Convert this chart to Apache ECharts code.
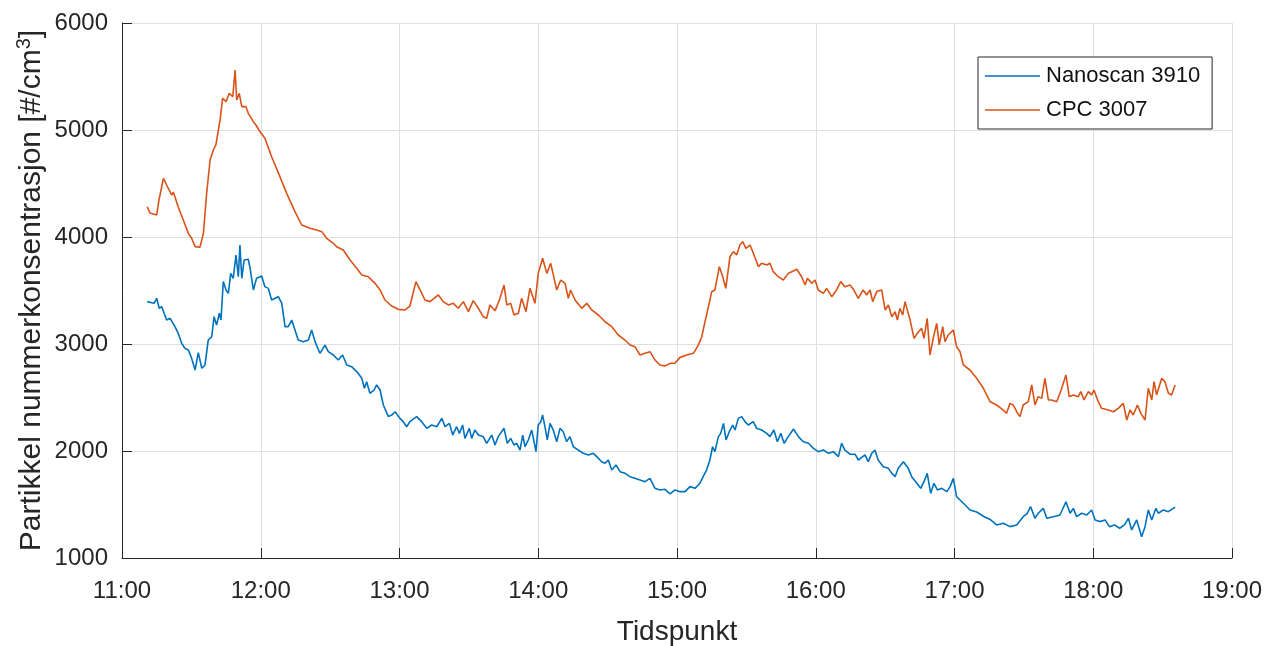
<!DOCTYPE html>
<html>
<head>
<meta charset="utf-8">
<script src="https://cdn.jsdelivr.net/npm/echarts@6/dist/echarts.min.js"></script>
<style>
  html, body { margin: 0; padding: 0; background: #ffffff; }
  #chart { width: 1268px; height: 646px; }
</style>
</head>
<body>
<div id="chart"></div>
<script>
// Time axis in minutes after midnight; samples are stored as minutes after 11:00.
const START_MIN = 660;
const xTickMin = 660;   // 11:00
const xTickMax = 1140;  // 19:00
const yTickMin = 1000;
const yTickMax = 6000;

const seriesNames = ['Nanoscan 3910', 'CPC 3007'];
const seriesColors = ['#0072BD', '#D95319'];

// [minutes after 11:00, particles per cm3]
const nanoscan3910 = [
  [10.9,3396],[12.8,3385],[13.8,3380],[15.0,3427],[16.1,3334],[17.2,3349],[18.2,3287],[19.3,3224],[20.8,3240],[22.9,3162],
  [24.3,3100],[25.8,3006],[27.2,2960],[28.7,2944],[30.1,2866],[31.6,2757],[33.0,2919],[34.5,2773],[35.9,2804],[37.3,3037],
  [38.8,3068],[39.8,3255],[40.9,3177],[42.1,3287],[42.8,3224],[43.8,3583],[45.0,3505],[46.0,3473],[47.0,3660],[48.1,3614],
  [49.3,3832],[50.3,3629],[51.0,3925],[51.8,3614],[52.8,3785],[53.6,3801],[54.6,3792],[55.4,3707],[56.8,3505],[58.2,3614],
  [60.4,3635],[61.8,3536],[63.3,3520],[64.7,3411],[66.2,3427],[67.6,3442],[69.1,3380],[70.5,3162],[71.9,3162],[73.4,3224],
  [74.8,3131],[76.2,3037],[78.4,3022],[80.6,3037],[82.0,3131],[83.5,3020],[85.6,2913],[87.8,2990],[89.2,2928],[91.4,2897],
  [93.5,2850],[95.4,2897],[97.2,2804],[99.3,2788],[101.5,2742],[103.7,2679],[104.8,2586],[105.8,2648],[107.2,2539],[109.0,2570],
  [110.1,2617],[111.6,2570],[113.0,2430],[115.2,2321],[116.6,2336],[118.1,2367],[120.2,2305],[121.6,2274],[123.1,2227],[124.5,2274],
  [127.4,2321],[129.6,2274],[131.8,2212],[133.9,2243],[136.1,2227],[138.3,2305],[139.7,2227],[141.6,2258],[143.0,2149],[144.7,2227],
  [145.9,2165],[147.3,2243],[148.3,2118],[150.2,2212],[151.2,2118],[152.6,2196],[154.1,2149],[156.2,2134],[157.7,2072],[159.9,2149],
  [161.3,2056],[162.7,2134],[165.2,2212],[166.6,2072],[168.1,2118],[169.5,2056],[170.7,2072],[172.1,2009],[173.3,2149],[174.3,2040],
  [175.7,2103],[177.2,2196],[177.9,2118],[179.0,1994],[180.0,2243],[181.1,2274],[181.9,2336],[182.9,2227],[183.9,2103],[185.1,2258],
  [186.5,2196],[188.0,2087],[189.4,2212],[190.8,2180],[192.3,2087],[193.7,2134],[195.2,2040],[197.3,2009],[199.5,1978],[201.7,1963],
  [203.8,1978],[205.3,1947],[207.4,1900],[208.9,1885],[210.3,1916],[211.8,1822],[213.6,1869],[215.4,1807],[217.5,1791],[219.7,1760],
  [221.8,1745],[224.0,1729],[226.2,1713],[228.3,1745],[230.5,1651],[232.6,1636],[234.8,1642],[237.0,1600],[239.1,1636],[241.3,1620],
  [243.5,1620],[245.6,1667],[247.8,1651],[249.9,1698],[251.3,1760],[252.8,1822],[254.2,1916],[255.4,2040],[256.4,1994],[257.9,2134],
  [258.9,2165],[260.1,2258],[261.2,2103],[262.6,2180],[264.1,2243],[265.1,2196],[266.5,2305],[268.0,2321],[269.4,2274],[270.8,2243],
  [273.0,2274],[274.4,2212],[276.6,2196],[278.8,2165],[280.2,2134],[281.9,2196],[283.4,2087],[284.9,2165],[286.3,2072],[288.1,2134],
  [290.4,2205],[292.5,2134],[294.6,2087],[296.9,2072],[299.0,2025],[301.1,1994],[303.3,2009],[305.5,1978],[307.6,1994],[309.8,1947],
  [311.2,2072],[312.6,2009],[314.8,1970],[317.0,1970],[318.4,1916],[319.1,1916],[321.3,1963],[322.7,1900],[324.2,1978],[325.6,2009],
  [327.0,1916],[329.2,1853],[331.4,1838],[332.9,1791],[334.3,1760],[335.7,1838],[337.9,1900],[340.0,1838],[341.5,1760],[343.7,1698],
  [345.4,1651],[346.8,1713],[348.2,1791],[349.7,1604],[351.1,1698],[352.6,1636],[354.5,1651],[356.7,1620],[358.1,1667],[359.5,1744],
  [360.9,1573],[362.4,1542],[364.6,1495],[366.7,1449],[369.6,1430],[372.5,1390],[375.4,1360],[378.2,1309],[381.1,1324],[384.0,1293],
  [386.9,1309],[389.7,1386],[391.5,1418],[392.9,1480],[394.8,1371],[396.2,1418],[398.4,1464],[399.9,1371],[402.8,1386],[405.6,1402],
  [408.2,1526],[410.0,1418],[411.4,1464],[412.8,1386],[415.0,1418],[417.2,1402],[419.3,1449],[420.8,1356],[422.9,1340],[425.1,1356],
  [427.0,1293],[429.2,1309],[431.4,1278],[433.5,1309],[435.2,1371],[436.6,1262],[438.8,1356],[440.9,1199],[442.4,1293],[443.8,1449],
  [445.3,1356],[447.1,1464],[448.2,1418],[450.3,1449],[452.5,1433],[454.6,1464],[455.4,1474]
];

const cpc3007 = [
  [10.9,4283],[12.1,4224],[15.0,4206],[16.0,4346],[17.9,4548],[19.3,4486],[21.5,4392],[22.2,4420],[24.3,4283],[26.5,4159],
  [28.7,4034],[30.1,3988],[31.6,3910],[33.7,3904],[35.2,4034],[36.6,4408],[38.1,4720],[39.5,4813],[40.6,4860],[42.4,5093],
  [43.5,5296],[45.0,5265],[46.4,5343],[47.9,5311],[48.9,5561],[49.6,5280],[50.7,5343],[51.8,5218],[53.6,5218],[54.6,5156],
  [56.8,5078],[57.9,5047],[59.7,4984],[61.8,4922],[64.7,4750],[68.3,4564],[71.2,4408],[74.8,4237],[77.7,4112],[81.3,4081],
  [84.2,4065],[86.4,4050],[88.5,3988],[91.4,3941],[92.8,3909],[95.7,3878],[98.6,3785],[101.5,3707],[103.7,3645],[106.5,3629],
  [109.4,3567],[111.6,3505],[113.7,3411],[116.6,3355],[119.5,3324],[122.4,3318],[124.5,3355],[127.1,3583],[128.9,3505],[131.0,3411],
  [133.2,3396],[136.8,3458],[138.9,3396],[141.1,3365],[143.3,3380],[145.4,3334],[147.6,3396],[149.8,3302],[151.9,3405],[154.1,3334],
  [156.2,3255],[157.7,3240],[159.1,3365],[161.3,3310],[163.2,3411],[165.2,3551],[166.4,3365],[168.1,3380],[169.5,3271],[171.4,3287],
  [172.8,3427],[174.7,3302],[176.4,3520],[178.6,3380],[180.0,3660],[180.8,3675],[181.9,3801],[183.7,3660],[185.4,3754],[188.0,3505],
  [189.7,3598],[191.6,3567],[193.0,3427],[194.0,3505],[195.9,3411],[198.8,3333],[201.0,3380],[203.1,3318],[206.0,3271],[208.9,3208],
  [211.8,3162],[214.6,3084],[217.5,3037],[219.7,2991],[221.8,2975],[224.0,2897],[226.2,2913],[228.3,2928],[230.5,2850],[232.6,2804],
  [234.8,2794],[237.0,2819],[239.1,2820],[241.3,2875],[244.2,2897],[247.1,2913],[249.2,2990],[250.7,3068],[252.1,3208],[253.6,3349],
  [255.0,3489],[256.4,3505],[258.3,3723],[259.8,3629],[261.1,3520],[262.9,3816],[264.4,3863],[265.8,3832],[267.2,3925],[268.4,3956],
  [269.8,3894],[271.6,3925],[273.3,3832],[275.2,3723],[276.6,3754],[278.8,3738],[280.2,3754],[281.6,3676],[283.8,3629],[286.0,3598],
  [288.1,3660],[289.6,3676],[291.8,3698],[293.9,3629],[295.4,3551],[296.4,3614],[298.2,3567],[299.7,3598],[301.1,3505],[303.3,3473],
  [304.7,3520],[306.9,3442],[309.0,3505],[310.8,3583],[312.6,3536],[314.8,3551],[316.2,3515],[318.4,3427],[320.5,3505],[322.0,3458],
  [323.5,3505],[324.6,3396],[326.4,3490],[328.5,3505],[330.0,3318],[331.4,3365],[332.9,3255],[334.3,3302],[335.3,3224],[336.4,3333],
  [337.6,3271],[338.6,3396],[340.8,3224],[342.5,3053],[344.4,3115],[345.8,3146],[346.8,3053],[348.2,3240],[349.4,2897],[350.8,3053],
  [352.3,3193],[353.4,2991],[354.9,3162],[355.9,3022],[357.3,3084],[359.5,3131],[360.9,2975],[362.4,2928],[363.8,2804],[366.7,2757],
  [369.6,2679],[372.5,2586],[373.9,2524],[375.4,2461],[378.2,2430],[381.1,2383],[382.5,2352],[384.0,2445],[385.4,2430],[386.9,2367],
  [388.3,2321],[389.7,2430],[391.9,2461],[393.4,2617],[394.8,2430],[396.2,2508],[397.7,2492],[399.1,2679],[400.6,2477],[402.0,2477],
  [404.2,2461],[406.1,2570],[408.2,2710],[409.6,2508],[411.4,2524],[413.5,2508],[414.6,2555],[416.0,2477],[417.9,2555],[419.3,2524],
  [420.3,2570],[422.2,2461],[423.6,2399],[426.5,2383],[428.7,2367],[430.8,2399],[433.0,2445],[434.5,2290],[435.9,2383],[437.3,2336],
  [439.1,2430],[440.6,2352],[442.4,2290],[443.8,2586],[445.3,2477],[446.3,2648],[447.4,2524],[449.6,2679],[451.0,2648],[452.5,2539],
  [453.9,2524],[455.4,2617]
];

const TEXT = '#262626';
const FONT = '"Liberation Sans", Arial, Helvetica, sans-serif';

function toClock(min) {
  const h = Math.floor(min / 60);
  const m = Math.round(min - h * 60);
  return h + ':' + String(m).padStart(2, '0');
}

const chart = echarts.init(document.getElementById('chart'), null, { renderer: 'canvas' });

chart.setOption({
  animation: false,
  backgroundColor: '#ffffff',
  textStyle: { fontFamily: FONT },
  grid: { left: 122, right: 36, top: 23, bottom: 88, containLabel: false, outerBoundsMode: 'none' },
  legend: {
    orient: 'vertical',
    left: 978,
    top: 57,
    data: seriesNames,
    icon: 'rect',
    itemWidth: 55,
    itemHeight: 1.5,
    itemGap: 12,
    padding: [8, 12, 8, 7],
    backgroundColor: '#ffffff',
    borderColor: TEXT,
    borderWidth: 1,
    borderRadius: 0,
    textStyle: { fontFamily: FONT, fontSize: 22, color: '#111111', padding: [0, 0, 0, 1] }
  },
  xAxis: {
    type: 'value',
    min: xTickMin,
    max: xTickMax,
    interval: 60,
    name: 'Tidspunkt',
    nameLocation: 'middle',
    nameGap: 60,
    nameMoveOverlap: false,
    nameTextStyle: { fontFamily: FONT, fontSize: 28, color: TEXT },
    axisLine: { show: true, lineStyle: { color: TEXT, width: 1 } },
    axisTick: { show: true, inside: true, length: 10, lineStyle: { color: TEXT } },
    axisLabel: { fontFamily: FONT, fontSize: 24, color: TEXT, margin: 21, formatter: toClock },
    splitLine: { show: true, lineStyle: { color: '#dfdfdf', width: 1 } }
  },
  yAxis: {
    type: 'value',
    min: yTickMin,
    max: yTickMax,
    interval: 1000,
    name: 'Partikkel nummerkonsentrasjon [#/cm{sup|3}]',
    nameLocation: 'middle',
    nameRotate: 90,
    nameGap: 72,
    nameMoveOverlap: false,
    nameTextStyle: {
      fontFamily: FONT, fontSize: 30, color: TEXT, lineHeight: 36,
      rich: {
        sup: { fontFamily: FONT, fontSize: 20, color: TEXT, verticalAlign: 'top', lineHeight: 20 }
      }
    },
    axisLine: { show: true, lineStyle: { color: TEXT, width: 1 } },
    axisTick: { show: true, inside: true, length: 10, lineStyle: { color: TEXT } },
    axisLabel: { fontFamily: FONT, fontSize: 24, color: TEXT, margin: 14, formatter: v => String(v) },
    splitLine: { show: true, lineStyle: { color: '#dfdfdf', width: 1 } }
  },
  series: [
    {
      name: seriesNames[0],
      type: 'line',
      showSymbol: false,
      color: seriesColors[0],
      lineStyle: { width: 1.6, color: seriesColors[0] },
      data: nanoscan3910.map(p => [START_MIN + p[0], p[1]])
    },
    {
      name: seriesNames[1],
      type: 'line',
      showSymbol: false,
      color: seriesColors[1],
      lineStyle: { width: 1.6, color: seriesColors[1] },
      data: cpc3007.map(p => [START_MIN + p[0], p[1]])
    }
  ]
});
</script>
</body>
</html>
